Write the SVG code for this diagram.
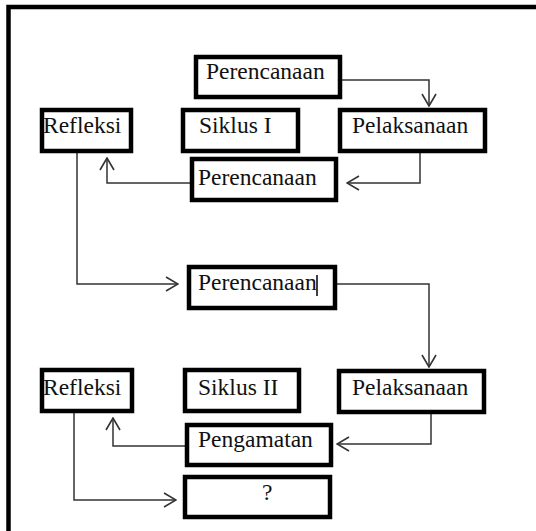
<svg xmlns="http://www.w3.org/2000/svg" width="536" height="531" viewBox="0 0 536 531">
<defs>
<style>
.box{fill:#fff;stroke:#000;stroke-width:4.5}
.lbl{font-family:"Liberation Serif","DejaVu Serif","Times New Roman",serif;font-size:23.5px;fill:#111}
.con{fill:none;stroke:#333;stroke-width:1.5}
</style>
<marker id="arr" viewBox="0 0 14 16" refX="13" refY="8" markerWidth="14" markerHeight="16" markerUnits="userSpaceOnUse" orient="auto">
<path d="M1,1 L13,8 L1,15" fill="none" stroke="#333" stroke-width="1.6"/>
</marker>
</defs>
<rect width="536" height="531" fill="#fff"/>
<path d="M8.5 531 V7 H536" fill="none" stroke="#000" stroke-width="4.5"/>
<g id="connectors">
<path class="con" d="M342 80 H429 V106" marker-end="url(#arr)"/>
<path class="con" d="M420 153 V183 H347" marker-end="url(#arr)"/>
<path class="con" d="M190 183 H107 V158" marker-end="url(#arr)"/>
<path class="con" d="M77 153 V284 H178" marker-end="url(#arr)"/>
<path class="con" d="M337 284 H429 V367" marker-end="url(#arr)"/>
<path class="con" d="M431 414 V444 H337" marker-end="url(#arr)"/>
<path class="con" d="M185 446 H113 V418" marker-end="url(#arr)"/>
<path class="con" d="M74 413 V500 H176" marker-end="url(#arr)"/>
</g>
<g id="perencanaan1"><rect class="box" x="196" y="57" width="144" height="40"/><text class="lbl" x="206" y="79">Perencanaan</text></g>
<g id="refleksi1"><rect class="box" x="42" y="110" width="89" height="41"/><text class="lbl" x="43" y="133">Refleksi</text></g>
<g id="siklus1"><rect class="box" x="183" y="110" width="115" height="41"/><text class="lbl" x="199" y="133">Siklus I</text></g>
<g id="pelaksanaan1"><rect class="box" x="340" y="110" width="145" height="41"/><text class="lbl" x="352" y="133">Pelaksanaan</text></g>
<g id="perencanaan2"><rect class="box" x="192" y="159" width="144" height="41"/><text class="lbl" x="198" y="185">Perencanaan</text></g>
<g id="perencanaan3"><rect class="box" x="189" y="267" width="146" height="41"/><text class="lbl" x="198" y="290">Perencanaan</text><line x1="317" y1="275" x2="317" y2="296" stroke="#000" stroke-width="1.5"/></g>
<g id="refleksi2"><rect class="box" x="42" y="370" width="90" height="41"/><text class="lbl" x="43" y="395">Refleksi</text></g>
<g id="siklus2"><rect class="box" x="185" y="370" width="114" height="41"/><text class="lbl" x="198" y="395">Siklus II</text></g>
<g id="pelaksanaan2"><rect class="box" x="339" y="371" width="145" height="41"/><text class="lbl" x="352" y="395">Pelaksanaan</text></g>
<g id="pengamatan"><rect class="box" x="187" y="425" width="144" height="40"/><text class="lbl" x="198" y="447">Pengamatan</text></g>
<g id="tanya"><rect class="box" x="185" y="477" width="145" height="40"/><text class="lbl" x="262" y="500">?</text></g>
</svg>
